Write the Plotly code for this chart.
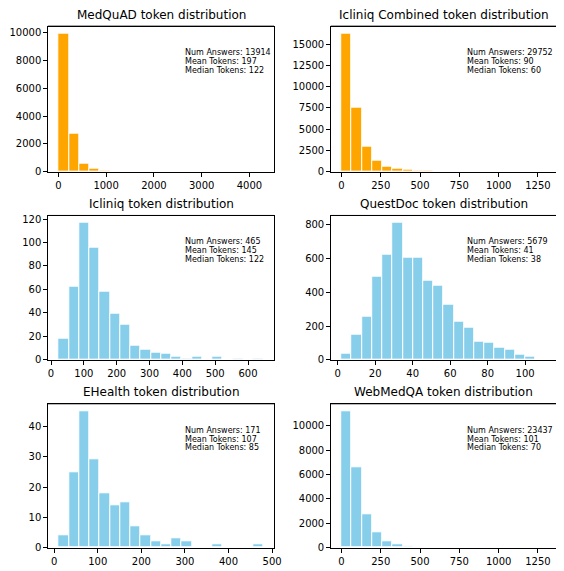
import numpy as np
import plotly.graph_objects as go

# ---------------- data ----------------
titles = [
    "MedQuAD token distribution",
    "Icliniq Combined token distribution",
    "Icliniq token distribution",
    "QuestDoc token distribution",
    "EHealth token distribution",
    "WebMedQA token distribution",
]
num_answers = [13914, 29752, 465, 5679, 171, 23437]
mean_tokens = [197, 90, 145, 41, 107, 101]
median_tokens = [122, 60, 122, 38, 85, 70]

# token range covered by the 20 histogram bins of each dataset
token_min = [5, 0, 23, 2, 10, 0]
token_max = [4300, 1300, 648, 111, 481, 1300]

medquad_counts = [9950, 2750, 580, 200, 60, 30, 18, 12, 8, 6, 5, 4, 3, 2, 2, 1, 1, 1, 0, 1]
icliniq_combined_counts = [16250, 7500, 2900, 1280, 560, 300, 190, 110, 70, 45, 30, 20, 15, 10, 8, 5, 3, 2, 1, 1]
icliniq_counts = [18, 62, 117, 96, 58, 39, 30, 12, 9, 6, 5, 3, 1, 3, 0, 3, 0, 1, 0, 1]
questdoc_counts = [35, 149, 258, 491, 624, 814, 608, 608, 471, 438, 327, 227, 190, 106, 100, 72, 61, 31, 22, 2]
ehealth_counts = [4, 25, 45, 29, 18, 14, 15, 7, 4, 2, 1, 3, 2, 0, 0, 1, 0, 0, 0, 1]
webmedqa_counts = [11200, 6600, 2750, 1250, 550, 300, 130, 70, 40, 25, 15, 10, 8, 5, 4, 3, 2, 1, 1, 1]

all_counts = [medquad_counts, icliniq_combined_counts, icliniq_counts,
              questdoc_counts, ehealth_counts, webmedqa_counts]

x_dticks = [1000, 250, 100, 20, 100, 250]
y_dticks = [2000, 2500, 20, 200, 10, 2000]
bar_colors = ["orange", "orange", "skyblue", "skyblue", "skyblue", "skyblue"]

# ---------------- layout geometry (pixels) ----------------
W, H = 564, 571
col_px = [(49, 278), (336, 565)]
row_px = [(25, 172), (216.7, 363), (408, 553.5)]
LINE_PX = 8.7

FONT = "DejaVu Sans"
fig = go.Figure()
annotations = []
shapes = []
layout_axes = {}

for i in range(6):
    r, c = divmod(i, 2)
    n = i + 1
    xs = "" if n == 1 else str(n)
    counts = np.array(all_counts[i])
    edges = np.linspace(token_min[i], token_max[i], len(counts) + 1)
    centers = (edges[:-1] + edges[1:]) / 2
    width = edges[1] - edges[0]

    fig.add_trace(go.Bar(
        x=centers, y=counts, width=width,
        marker=dict(color=bar_colors[i], line=dict(color="white", width=1)),
        xaxis="x" + xs, yaxis="y" + xs, showlegend=False, hoverinfo="x+y",
    ))

    span = token_max[i] - token_min[i]
    xr = [token_min[i] - 0.05 * span, token_max[i] + 0.05 * span]
    yr = [0, 1.05 * counts.max()]

    x0, x1 = col_px[c]
    y0, y1 = row_px[r]
    xdom = [x0 / W, min(x1 / W, 1.0)]
    ydom = [1 - y1 / H, 1 - y0 / H]

    common = dict(
        showgrid=False, zeroline=False, showline=True, linecolor="black",
        linewidth=1, ticks="outside", ticklen=4, tickwidth=1, tick0=0,
        tickcolor="black", tickformat="d",
        tickfont=dict(family=FONT, size=10, color="black"),
    )
    layout_axes["xaxis" + xs] = dict(
        domain=xdom, range=xr, anchor="y" + xs, dtick=x_dticks[i],
        mirror=True, **common,
    )
    layout_axes["yaxis" + xs] = dict(
        domain=ydom, range=yr, anchor="x" + xs, dtick=y_dticks[i],
        mirror=(c == 0), **common,
    )

    # top spine drawn explicitly, aligned on a whole pixel row
    top_y = 1 - (round(y0) - 0.5) / H
    shapes.append(dict(
        type="line", xref="paper", yref="paper",
        x0=xdom[0] - 0.5 / W, x1=xdom[1], y0=top_y, y1=top_y,
        line=dict(color="black", width=1), layer="above",
    ))

    annotations.append(dict(
        xref=f"x{xs} domain", yref=f"y{xs} domain", x=0.5, y=1.0,
        xanchor="center", yanchor="bottom", yshift=3, showarrow=False,
        text=titles[i], font=dict(family=FONT, size=12, color="black"),
    ))
    stat_lines = [f"Num Answers: {num_answers[i]}",
                  f"Mean Tokens: {mean_tokens[i]}",
                  f"Median Tokens: {median_tokens[i]}"]
    for k, line in enumerate(stat_lines):
        annotations.append(dict(
            xref=f"x{xs} domain", yref=f"y{xs} domain", x=0.6, y=0.85,
            xanchor="left", yanchor="top", align="left", showarrow=False,
            yshift=-k * LINE_PX + 1, borderpad=0,
            text=line, font=dict(family=FONT, size=8, color="black"),
        ))

fig.update_layout(
    width=W, height=H, margin=dict(l=0, r=0, t=0, b=0),
    paper_bgcolor="white", plot_bgcolor="white",
    annotations=annotations, shapes=shapes, showlegend=False, bargap=0,
    **layout_axes,
)

fig.write_html(
    "out.html",
    config={"displayModeBar": False},
    post_script="document.body.style.margin='0';document.body.style.padding='0';",
)
